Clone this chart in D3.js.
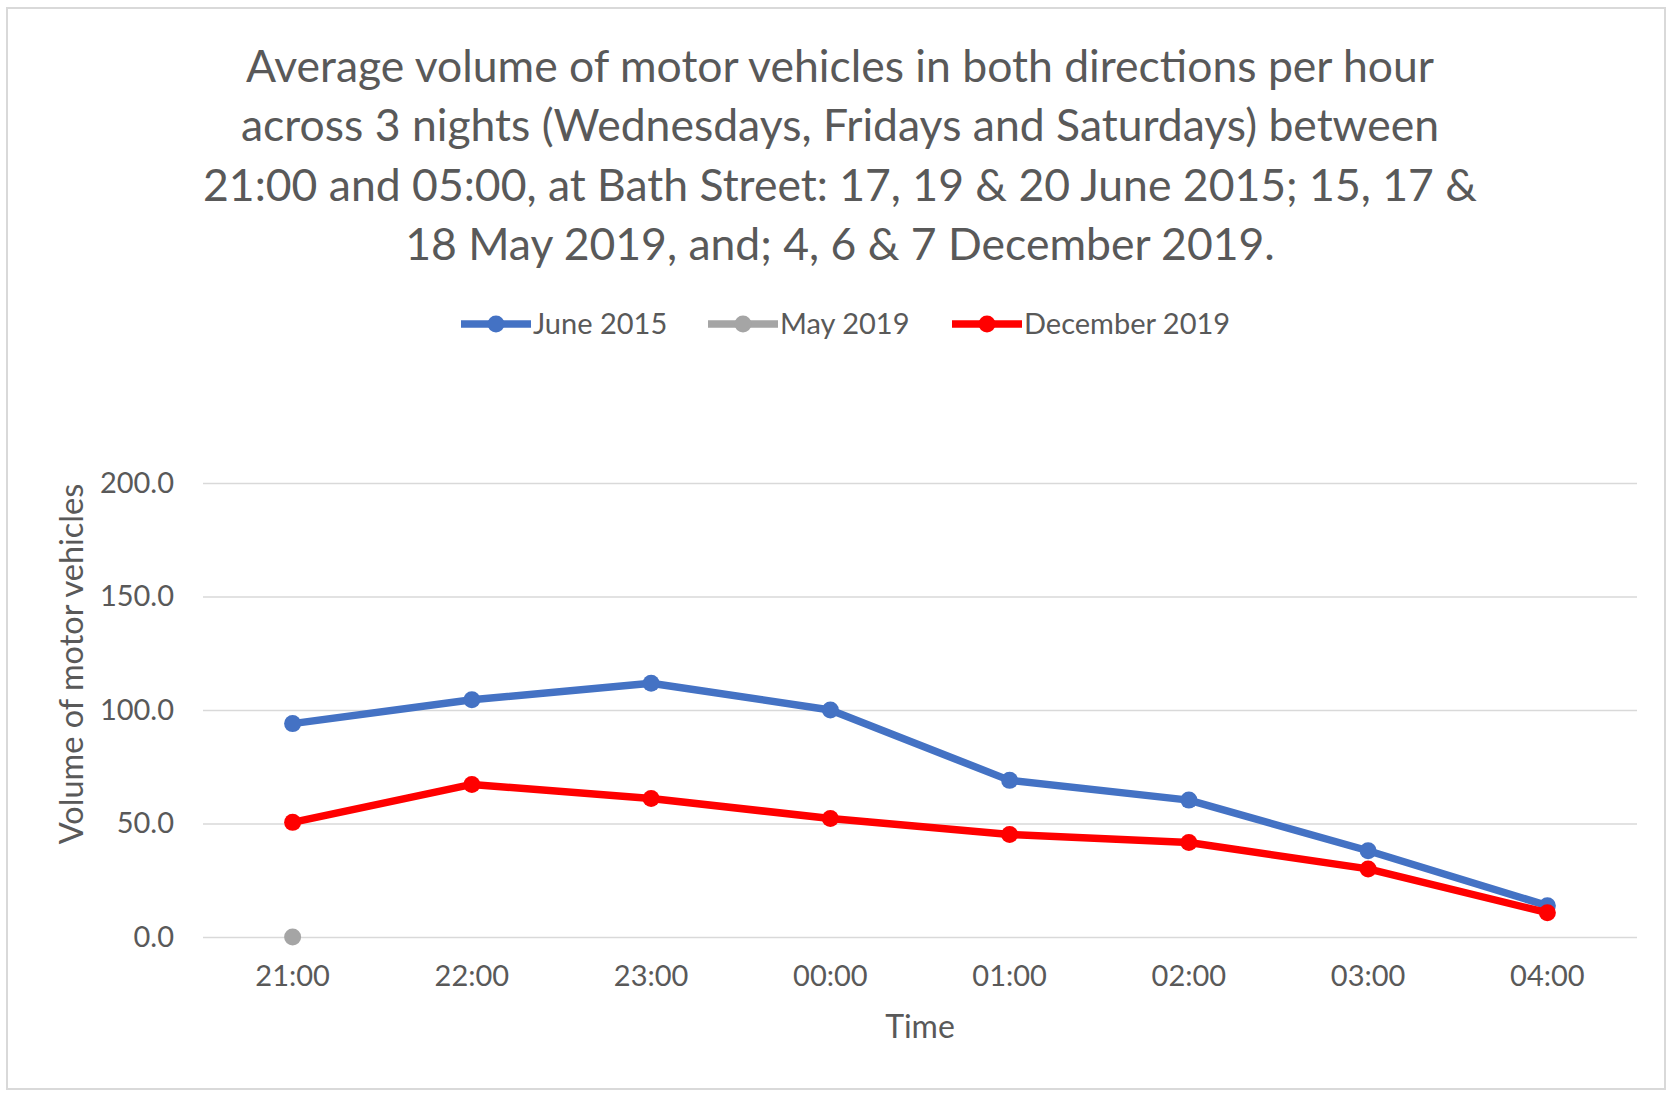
<!DOCTYPE html>
<html>
<head>
<meta charset="utf-8">
<script src="https://cdn.jsdelivr.net/npm/d3@7"></script>
<style>
  body { margin: 0; background: #fff; }
  svg { display: block; }
  text { font-family: Lato, "Open Sans", sans-serif; fill: #595959; }
</style>
</head>
<body>
<svg width="1672" height="1093"></svg>
<script>
// hours along the x axis
var times = ["21:00", "22:00", "23:00", "00:00", "01:00", "02:00", "03:00", "04:00"];

// average vehicles per hour
var june2015 = [94.0, 104.5, 111.8, 100.0, 69.0, 60.3, 38.0, 13.8];
var may2019  = [0.0, null, null, null, null, null, null, null];
var dec2019  = [50.5, 67.2, 61.0, 52.2, 45.2, 41.6, 30.0, 10.7];

var seriesNames  = ["June 2015", "May 2019", "December 2019"];
var seriesColors = ["#4472C4", "#A5A5A5", "#FF0000"];

var yTicks = [0, 50, 100, 150, 200];

var titleLines = [
  "Average volume of motor vehicles in both directions per hour",
  "across 3 nights (Wednesdays, Fridays and Saturdays) between",
  "21:00 and 05:00, at Bath Street: 17, 19 & 20 June 2015; 15, 17 &",
  "18 May 2019, and; 4, 6 & 7 December 2019."
];

var series = [june2015, may2019, dec2019].map(function(vals, i) {
  return {name: seriesNames[i], color: seriesColors[i],
          points: vals.map(function(v, j) { return {t: times[j], v: v}; })};
});

var svg = d3.select("svg");

// outer chart border
svg.append("rect")
  .attr("x", 7).attr("y", 8).attr("width", 1658).attr("height", 1081)
  .attr("fill", "#fff").attr("stroke", "#d9d9d9").attr("stroke-width", 2);

// plot area (note: "top" is reserved on window, so prefix these)
var plotLeft = 203, plotRight = 1637, plotTop = 483, plotBottom = 937;

var x = d3.scaleBand().domain(times).range([plotLeft, plotRight]).padding(0);
var y = d3.scaleLinear().domain([0, 200]).range([plotBottom, plotTop]);

// title
svg.append("g").selectAll("text")
  .data(titleLines)
  .enter().append("text")
  .attr("x", 840)
  .attr("y", function(d, i) { return 66 + i * 59.5; })
  .attr("dy", "0.35em")
  .attr("text-anchor", "middle")
  .style("font-size", "44.5px")
  .text(function(d) { return d; });

// y axis with gridlines
var yAxis = svg.append("g")
  .attr("transform", "translate(" + plotLeft + ",0)")
  .call(d3.axisLeft(y).tickValues(yTicks).tickFormat(d3.format(".1f"))
          .tickSizeInner(-(plotRight - plotLeft)).tickSizeOuter(0).tickPadding(29));
yAxis.select(".domain").remove();
yAxis.selectAll(".tick line").attr("stroke", "#d9d9d9").attr("stroke-width", 1.5);
yAxis.selectAll(".tick text").style("font-size", "29px").attr("fill", "#595959");

// x axis
var xAxis = svg.append("g")
  .attr("transform", "translate(0," + plotBottom + ")")
  .call(d3.axisBottom(x).tickSize(0));
xAxis.select(".domain").remove();
xAxis.selectAll(".tick text")
  .attr("y", 39).attr("dy", "0.35em")
  .style("font-size", "29px").attr("fill", "#595959");

// axis titles
svg.append("text")
  .attr("x", (plotLeft + plotRight) / 2).attr("y", 1027).attr("dy", "0.35em")
  .attr("text-anchor", "middle").style("font-size", "32px")
  .text("Time");

svg.append("text")
  .attr("transform", "translate(72," + ((plotTop + 845) / 2) + ") rotate(-90)")
  .attr("dy", "0.35em")
  .attr("text-anchor", "middle").style("font-size", "32.5px")
  .text("Volume of motor vehicles");

// lines and markers
var line = d3.line()
  .defined(function(d) { return d.v != null; })
  .x(function(d) { return x(d.t) + x.bandwidth() / 2; })
  .y(function(d) { return y(d.v); });

var sg = svg.append("g").selectAll("g")
  .data(series)
  .enter().append("g");

sg.append("path")
  .attr("fill", "none")
  .attr("stroke", function(d) { return d.color; })
  .attr("stroke-width", 7.5)
  .attr("stroke-linejoin", "round")
  .attr("d", function(d) { return line(d.points); });

sg.selectAll("circle")
  .data(function(d) { return d.points.filter(function(p) { return p.v != null; })
                        .map(function(p) { return {t: p.t, v: p.v, color: d.color}; }); })
  .enter().append("circle")
  .attr("cx", function(d) { return x(d.t) + x.bandwidth() / 2; })
  .attr("cy", function(d) { return y(d.v); })
  .attr("r", 8.5)
  .attr("fill", function(d) { return d.color; });

// legend
var legendX = [461, 708, 952];
var lg = svg.append("g").selectAll("g")
  .data(series)
  .enter().append("g")
  .attr("transform", function(d, i) { return "translate(" + legendX[i] + ",324)"; });

lg.append("line")
  .attr("x1", 0).attr("x2", 70)
  .attr("stroke", function(d) { return d.color; })
  .attr("stroke-width", 7.5);
lg.append("circle")
  .attr("cx", 35).attr("r", 8.5)
  .attr("fill", function(d) { return d.color; });
lg.append("text")
  .attr("x", 72).attr("dy", "0.35em")
  .style("font-size", "29px")
  .text(function(d) { return d.name; });
</script>
</body>
</html>
